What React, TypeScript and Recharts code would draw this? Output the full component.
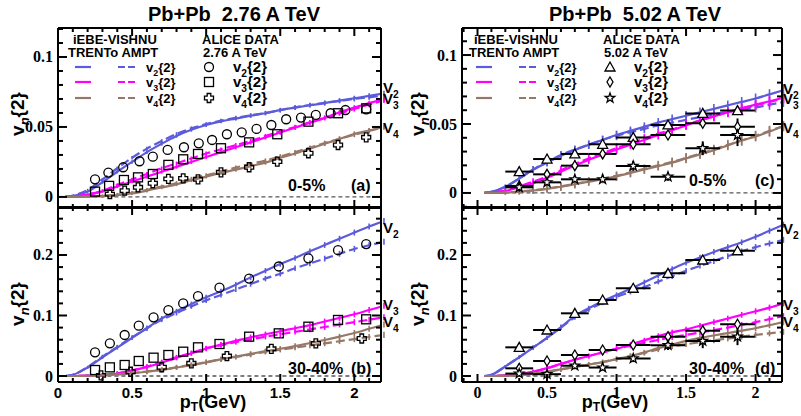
import React from 'react';
import { ComposedChart, Line, Scatter, XAxis, YAxis, ErrorBar, ReferenceLine } from 'recharts';

const BLUE = '#5b5bdb';
const MAGENTA = '#ff00ff';
const BROWN = '#977868';
const SANS = '"Liberation Sans", Arial, sans-serif';
const SERIF = '"Liberation Serif", "Times New Roman", serif';

// pT grid of the model curves (GeV)
const pt = [0.05, 0.1, 0.2, 0.3, 0.4, 0.5, 0.6, 0.7, 0.8, 0.9, 1.0, 1.1, 1.2, 1.3, 1.4, 1.5, 1.6, 1.7, 1.8, 1.9, 2.0, 2.1, 2.2];

// ---- Pb+Pb 2.76 A TeV, 0-5% ----
const aV2Trento = [0, 0.0007, 0.0038, 0.0105, 0.018, 0.025, 0.032, 0.038, 0.0436, 0.048, 0.0514, 0.054, 0.056, 0.058, 0.0598, 0.062, 0.0638, 0.0655, 0.067, 0.0688, 0.0705, 0.0722, 0.074];
const aV2Ampt = [0, 0.001, 0.005, 0.0125, 0.0205, 0.028, 0.0345, 0.04, 0.045, 0.049, 0.052, 0.0545, 0.0565, 0.0583, 0.06, 0.062, 0.064, 0.0657, 0.0672, 0.0686, 0.07, 0.0712, 0.0725];
const aV3Trento = [0, 0.0003, 0.0015, 0.004, 0.0075, 0.011, 0.0145, 0.018, 0.0215, 0.025, 0.0285, 0.032, 0.0355, 0.039, 0.0425, 0.046, 0.0495, 0.053, 0.0565, 0.0605, 0.0638, 0.067, 0.07];
const aV3Ampt = [0, 0.0004, 0.0018, 0.0045, 0.0085, 0.0125, 0.0165, 0.0205, 0.024, 0.0275, 0.031, 0.034, 0.037, 0.04, 0.0435, 0.0468, 0.05, 0.0533, 0.0565, 0.0597, 0.0628, 0.066, 0.069];
const aV4Trento = [0, 0, 0.0002, 0.0006, 0.0013, 0.0025, 0.0045, 0.0068, 0.009, 0.012, 0.0145, 0.0172, 0.0195, 0.022, 0.0245, 0.028, 0.031, 0.0345, 0.038, 0.0415, 0.045, 0.0475, 0.05];
const aV4Ampt = [0, 0, 0.0003, 0.0008, 0.0017, 0.003, 0.005, 0.0075, 0.01, 0.013, 0.0155, 0.018, 0.021, 0.0235, 0.026, 0.029, 0.032, 0.0352, 0.0385, 0.0415, 0.0445, 0.0472, 0.05];
const aErr = [0, 0, 0.0008, 0.001, 0.0012, 0.0012, 0.0013, 0.0013, 0.0013, 0.0014, 0.0014, 0.0014, 0.0015, 0.0015, 0.0015, 0.0016, 0.0016, 0.0016, 0.0017, 0.0017, 0.0018, 0.0018, 0.0018];

const aV2DataPt = [0.25, 0.34, 0.44, 0.55, 0.64, 0.74, 0.85, 0.95, 1.04, 1.14, 1.24, 1.34, 1.44, 1.54, 1.64, 1.74, 1.84, 1.94, 2.08];
const aV2Data = [0.0126, 0.0174, 0.0212, 0.0255, 0.0288, 0.0336, 0.0355, 0.0383, 0.0407, 0.0448, 0.0462, 0.0486, 0.0514, 0.0555, 0.0567, 0.0586, 0.0598, 0.0621, 0.0626];
const aV3DataPt = [0.25, 0.345, 0.445, 0.54, 0.64, 0.745, 0.845, 0.945, 1.1, 1.29, 1.48, 1.69, 1.89, 2.08];
const aV3Data = [0.0038, 0.0079, 0.0121, 0.014, 0.0164, 0.0229, 0.0269, 0.0307, 0.0348, 0.039, 0.0448, 0.0538, 0.0598, 0.0633];
const aV4DataPt = [0.35, 0.45, 0.54, 0.64, 0.745, 0.845, 0.945, 1.1, 1.29, 1.48, 1.69, 1.89, 2.08];
const aV4Data = [0.002, 0.0045, 0.0069, 0.0098, 0.0129, 0.0133, 0.0126, 0.0176, 0.0212, 0.0252, 0.0312, 0.0371, 0.0426];

// ---- Pb+Pb 2.76 A TeV, 30-40% ----
const bV2Trento = [0, 0.002, 0.014, 0.031, 0.047, 0.063, 0.079, 0.095, 0.107, 0.119, 0.13, 0.14, 0.151, 0.163, 0.174, 0.185, 0.195, 0.206, 0.2165, 0.227, 0.237, 0.247, 0.256];
const bV2Ampt = [0, 0.002, 0.015, 0.032, 0.048, 0.064, 0.079, 0.093, 0.104, 0.115, 0.125, 0.134, 0.143, 0.152, 0.161, 0.169, 0.178, 0.186, 0.194, 0.202, 0.21, 0.216, 0.222];
const bV3Trento = [0, 0, 0.0005, 0.0015, 0.004, 0.009, 0.015, 0.022, 0.03, 0.0375, 0.045, 0.052, 0.058, 0.064, 0.069, 0.074, 0.079, 0.084, 0.09, 0.096, 0.102, 0.109, 0.116];
const bV3Ampt = [0, 0, 0.0006, 0.0018, 0.0045, 0.0095, 0.0155, 0.023, 0.031, 0.038, 0.046, 0.051, 0.056, 0.0605, 0.065, 0.069, 0.073, 0.077, 0.081, 0.085, 0.089, 0.093, 0.097];
const bV4Trento = [0, 0, 0.0003, 0.001, 0.0025, 0.0045, 0.007, 0.01, 0.014, 0.018, 0.0225, 0.0275, 0.032, 0.0365, 0.041, 0.045, 0.0495, 0.0545, 0.0595, 0.065, 0.071, 0.078, 0.085];
const bV4Ampt = [0, 0, 0.0004, 0.0012, 0.003, 0.005, 0.0075, 0.0105, 0.0145, 0.0185, 0.023, 0.0275, 0.0315, 0.0355, 0.04, 0.0435, 0.047, 0.0505, 0.054, 0.0575, 0.061, 0.0645, 0.068];
const bErr = [0, 0, 0.002, 0.003, 0.0035, 0.0035, 0.004, 0.004, 0.004, 0.004, 0.0042, 0.0042, 0.0042, 0.0045, 0.0045, 0.0045, 0.0045, 0.0048, 0.0048, 0.0048, 0.005, 0.005, 0.005];

const bDataPt = [0.25, 0.35, 0.45, 0.545, 0.645, 0.745, 0.845, 0.945, 1.09, 1.29, 1.49, 1.69, 1.89, 2.08];
const bV2Data = [0.0391, 0.054, 0.0678, 0.0832, 0.097, 0.109, 0.12, 0.132, 0.146, 0.161, 0.181, 0.1945, 0.208, 0.218];
const bV3Data = [0.0099, 0.0143, 0.0182, 0.0248, 0.0303, 0.0347, 0.0402, 0.0474, 0.0529, 0.065, 0.0705, 0.0815, 0.0926, 0.0937];
const bV4DataPt = [0.29, 0.49, 0.7, 0.9, 1.14, 1.44, 1.74, 2.05];
const bV4Data = [0.001, 0.007, 0.0145, 0.021, 0.033, 0.045, 0.054, 0.062];

// ---- Pb+Pb 5.02 A TeV, 0-5% ----
const cV2Trento = [0, 0.0008, 0.0045, 0.0105, 0.0168, 0.022, 0.027, 0.031, 0.035, 0.0385, 0.042, 0.045, 0.048, 0.051, 0.0535, 0.056, 0.0585, 0.061, 0.0635, 0.066, 0.0685, 0.0715, 0.0745];
const cV2Ampt = [0, 0.0008, 0.0045, 0.0105, 0.017, 0.0225, 0.0275, 0.0315, 0.035, 0.0385, 0.0415, 0.044, 0.0465, 0.049, 0.051, 0.053, 0.055, 0.057, 0.0588, 0.0605, 0.062, 0.064, 0.066];
const cV3Trento = [0, 0.0002, 0.0015, 0.004, 0.007, 0.011, 0.0155, 0.02, 0.024, 0.028, 0.0315, 0.035, 0.0385, 0.042, 0.0455, 0.049, 0.0525, 0.0555, 0.0585, 0.0615, 0.064, 0.0665, 0.069];
const cV3Ampt = [0, 0.0003, 0.0018, 0.0048, 0.0082, 0.012, 0.0165, 0.021, 0.025, 0.029, 0.0325, 0.036, 0.0395, 0.043, 0.046, 0.0495, 0.0525, 0.0555, 0.0585, 0.061, 0.0635, 0.066, 0.0685];
const cV4Trento = [0, 0, 0.0003, 0.0009, 0.0018, 0.003, 0.0045, 0.0063, 0.0082, 0.01, 0.012, 0.0145, 0.017, 0.0195, 0.022, 0.025, 0.028, 0.031, 0.0345, 0.038, 0.041, 0.0445, 0.0485];
const cV4Ampt = [0, 0, 0.0003, 0.001, 0.002, 0.0032, 0.0048, 0.0066, 0.0085, 0.0105, 0.0125, 0.015, 0.0175, 0.02, 0.0225, 0.0255, 0.0285, 0.0315, 0.035, 0.038, 0.0415, 0.045, 0.0485];
const cErr = [0, 0, 0.0015, 0.002, 0.0025, 0.0028, 0.003, 0.003, 0.003, 0.003, 0.0032, 0.0032, 0.0032, 0.0033, 0.0033, 0.0034, 0.0034, 0.0035, 0.0035, 0.0036, 0.0036, 0.0037, 0.0037];

// ALICE 5.02 TeV bins: centre, half width
const aliceBinPt = [0.3, 0.5, 0.7, 0.9, 1.12, 1.37, 1.62, 1.87];
const aliceBinHalf = [0.1, 0.1, 0.1, 0.1, 0.125, 0.125, 0.125, 0.125];
const cV2Data = [0.0155, 0.0246, 0.0283, 0.0353, 0.0403, 0.0493, 0.0577, 0.0597];
const cV2Stat = [0.001, 0.001, 0.001, 0.0015, 0.0015, 0.002, 0.002, 0.003];
const cV3Data = [0.0051, 0.0135, 0.0198, 0.0283, 0.0353, 0.042, 0.0505, 0.048];
const cV3Stat = [0.001, 0.001, 0.0015, 0.0015, 0.002, 0.0025, 0.003, 0.006];
const cV4Data = [0.0041, 0.0077, 0.0099, 0.0099, 0.0196, 0.0118, 0.0324, 0.042];
const cV4Stat = [0.001, 0.0015, 0.002, 0.002, 0.0035, 0.003, 0.005, 0.008];

// ---- Pb+Pb 5.02 A TeV, 30-40% ----
const dV2Trento = [0, 0.002, 0.016, 0.031, 0.047, 0.063, 0.081, 0.099, 0.112, 0.124, 0.134, 0.144, 0.155, 0.166, 0.177, 0.187, 0.196, 0.205, 0.213, 0.221, 0.23, 0.24, 0.25];
const dV2Ampt = [0, 0.002, 0.016, 0.031, 0.047, 0.063, 0.08, 0.097, 0.11, 0.121, 0.131, 0.139, 0.147, 0.156, 0.165, 0.174, 0.182, 0.19, 0.198, 0.206, 0.213, 0.219, 0.225];
const dV3Trento = [0, 0, 0.001, 0.003, 0.007, 0.013, 0.02, 0.027, 0.033, 0.039, 0.045, 0.052, 0.059, 0.066, 0.072, 0.077, 0.083, 0.089, 0.095, 0.101, 0.107, 0.113, 0.12];
const dV3Ampt = [0, 0, 0.001, 0.003, 0.007, 0.013, 0.02, 0.027, 0.033, 0.039, 0.045, 0.05, 0.055, 0.0595, 0.064, 0.068, 0.072, 0.076, 0.08, 0.0845, 0.089, 0.094, 0.099];
const dV4Trento = [0, 0, 0.0005, 0.0015, 0.004, 0.007, 0.011, 0.015, 0.019, 0.023, 0.028, 0.033, 0.039, 0.046, 0.052, 0.058, 0.063, 0.067, 0.071, 0.075, 0.079, 0.084, 0.089];
const dV4Ampt = [0, 0, 0.0005, 0.0015, 0.004, 0.007, 0.011, 0.015, 0.019, 0.023, 0.028, 0.033, 0.038, 0.044, 0.049, 0.0525, 0.056, 0.059, 0.062, 0.065, 0.068, 0.0705, 0.073];
const dErr = [0, 0, 0.002, 0.003, 0.0035, 0.0035, 0.004, 0.004, 0.004, 0.004, 0.0042, 0.0042, 0.0042, 0.0045, 0.0045, 0.0045, 0.0045, 0.0048, 0.0048, 0.0048, 0.005, 0.005, 0.005];

const dV2Data = [0.0474, 0.076, 0.1036, 0.1256, 0.145, 0.1697, 0.1917, 0.207];
const dV2Stat = [0.002, 0.002, 0.002, 0.002, 0.003, 0.003, 0.003, 0.004];
const dV3Data = [0.0127, 0.0248, 0.0347, 0.043, 0.0512, 0.065, 0.0749, 0.0855];
const dV3Stat = [0.002, 0.002, 0.002, 0.003, 0.003, 0.004, 0.005, 0.006];
const dV4Data = [0.004, 0.003, 0.017, 0.014, 0.029, 0.051, 0.058, 0.065];
const dV4Stat = [0.004, 0.004, 0.005, 0.005, 0.006, 0.008, 0.012, 0.014];

// axis ticks
const xMajor = [0, 0.5, 1, 1.5, 2];
const yMajorTop = [0, 0.05, 0.1];
const yMajorBottom = [0, 0.1, 0.2];

const steps = (from: number, to: number, step: number) => {
  const n = Math.round((to - from) / step);
  const out: number[] = [];
  for (let i = 0; i <= n; i++) out.push(Math.round((from + i * step) * 1000) / 1000);
  return out;
};
const isMajor = (v: number, majors: number[]) => majors.some((m) => Math.abs(m - v) < 1e-6);

const buildRows = (v2t: number[], v2a: number[], v3t: number[], v3a: number[], v4t: number[], v4a: number[], err: number[]) =>
  pt.map((x, i) => ({ x, v2t: v2t[i], v2a: v2a[i], v3t: v3t[i], v3a: v3a[i], v4t: v4t[i], v4a: v4a[i], err: err[i] }));

const buildPoints = (xs: number[], ys: number[], xe?: number[], ye?: number[]) =>
  xs.map((x, i) => ({ x, y: ys[i], xe: xe ? xe[i] : 0, ye: ye ? ye[i] : 0 }));

const curves = [
  { key: 'v2t', color: BLUE, dashed: false },
  { key: 'v2a', color: BLUE, dashed: true },
  { key: 'v3t', color: MAGENTA, dashed: false },
  { key: 'v3a', color: MAGENTA, dashed: true },
  { key: 'v4t', color: BROWN, dashed: false },
  { key: 'v4a', color: BROWN, dashed: true },
];

type Kind = 'circle' | 'square' | 'cross' | 'triangle' | 'diamond' | 'star';

const Marker = ({ kind, cx, cy, fill }: { kind: Kind; cx: number; cy: number; fill: string }) => {
  const st = { fill, stroke: '#000', strokeWidth: 1.3 };
  if (kind === 'circle') return <circle cx={cx} cy={cy} r={4.5} {...st} />;
  if (kind === 'square') return <rect x={cx - 4.5} y={cy - 4.5} width={9} height={9} {...st} />;
  if (kind === 'triangle') return <polygon points={`${cx},${cy - 5} ${cx + 5},${cy + 4} ${cx - 5},${cy + 4}`} {...st} />;
  if (kind === 'diamond') return <polygon points={`${cx},${cy - 5} ${cx + 3},${cy} ${cx},${cy + 5} ${cx - 3},${cy}`} {...st} />;
  if (kind === 'cross') {
    const a = 1.8, b = 4.5;
    const p = [[-a, -b], [a, -b], [a, -a], [b, -a], [b, a], [a, a], [a, b], [-a, b], [-a, a], [-b, a], [-b, -a], [-a, -a]];
    return <polygon points={p.map(([dx, dy]) => `${cx + dx},${cy + dy}`).join(' ')} {...st} />;
  }
  const pts: string[] = [];
  for (let i = 0; i < 10; i++) {
    const r = i % 2 === 0 ? 5 : 2;
    const ang = -Math.PI / 2 + (i * Math.PI) / 5;
    pts.push(`${cx + r * Math.cos(ang)},${cy + r * Math.sin(ang)}`);
  }
  return <polygon points={pts.join(' ')} {...st} />;
};

interface PointSet { kind: Kind; data: { x: number; y: number; xe: number; ye: number }[]; bars: boolean }

interface PanelProps {
  left: number; top: number; width: number; height: number;
  plot: { x0: number; x1: number; y0: number; y1: number };
  xDomain: [number, number]; yDomain: [number, number];
  xMinor: number[]; yMinor: number[]; yMajor: number[];
  rows: ReturnType<typeof buildRows>;
  sets: PointSet[];
  xLabels: boolean; xLabelFont: string; xLabelSize: number;
  fill: string;
}

const AXIS = { stroke: '#000', strokeWidth: 2 };
const noShape = () => <g />;

function Panel(p: PanelProps) {
  const xTick = (dir: 1 | -1, labels: boolean) => (t: any) => {
    const v = t.payload.value;
    const major = isMajor(v, xMajor);
    const len = major ? 8 : 4;
    return (
      <g>
        <line x1={t.x} y1={t.y} x2={t.x} y2={t.y - dir * len} stroke="#000" strokeWidth={2} />
        {labels && major && (
          <text x={t.x} y={t.y + 16} textAnchor="middle" fontFamily={p.xLabelFont} fontWeight="bold" fontSize={p.xLabelSize} fill="#000">
            {String(v)}
          </text>
        )}
      </g>
    );
  };
  const yTick = (dir: 1 | -1, labels: boolean) => (t: any) => {
    const v = t.payload.value;
    const major = isMajor(v, p.yMajor);
    const len = major ? 9 : 5;
    return (
      <g>
        <line x1={t.x} y1={t.y} x2={t.x + dir * len} y2={t.y} stroke="#000" strokeWidth={2} />
        {labels && major && (
          <text x={t.x - 5} y={t.y + 5.5} textAnchor="end" fontFamily={SERIF} fontWeight="bold" fontSize={16} fill="#000">
            {String(v)}
          </text>
        )}
      </g>
    );
  };
  const common = { type: 'number' as const, allowDataOverflow: true, interval: 0 as const, tickLine: false, tickSize: 0, tickMargin: 0, axisLine: AXIS };
  return (
    <div style={{ position: 'absolute', left: p.left, top: p.top }}>
      <ComposedChart width={p.width} height={p.height} data={p.rows} margin={{ top: 0, right: 0, bottom: 0, left: 0 }}>
        <XAxis xAxisId="b" dataKey="x" domain={p.xDomain} ticks={p.xMinor} height={p.height - p.plot.y1} tick={xTick(1, p.xLabels)} {...common} />
        <XAxis xAxisId="t" orientation="top" dataKey="x" domain={p.xDomain} ticks={p.xMinor} height={p.plot.y0} tick={xTick(-1, false)} {...common} />
        <YAxis yAxisId="l" domain={p.yDomain} ticks={p.yMinor} width={p.plot.x0} tick={yTick(1, true)} {...common} />
        <YAxis yAxisId="r" orientation="right" domain={p.yDomain} ticks={p.yMinor} width={p.width - p.plot.x1} tick={yTick(-1, false)} {...common} />
        <ReferenceLine xAxisId="b" yAxisId="l" segment={[{ x: 0.05, y: 0 }, { x: p.xDomain[1], y: 0 }]} stroke="#555" strokeWidth={1.3} strokeDasharray="4 3" />
        {curves.map((c) => (
          <Line key={c.key} xAxisId="b" yAxisId="l" dataKey={c.key} type="monotone" stroke={c.color} strokeWidth={2.2}
            strokeDasharray={c.dashed ? '9 4' : undefined} dot={false} isAnimationActive={false} />
        ))}
        {/* model uncertainty ticks along each curve */}
        {curves.map((c) => (
          <Scatter key={`e-${c.key}`} xAxisId="b" yAxisId="l" data={p.rows.slice(2).map((r) => ({ x: r.x, y: (r as any)[c.key], err: r.err }))}
            dataKey="y" shape={noShape} isAnimationActive={false}>
            <ErrorBar dataKey="err" direction="y" width={0} stroke={c.color} strokeWidth={1.6} />
          </Scatter>
        ))}
        {p.sets.map((s, i) => (
          <Scatter key={i} xAxisId="b" yAxisId="l" data={s.data} dataKey="y" isAnimationActive={false}
            shape={(sp: any) => <Marker kind={s.kind} cx={sp.cx} cy={sp.cy} fill={p.fill} />}>
            {s.bars && <ErrorBar dataKey="xe" direction="x" width={0} stroke="#000" strokeWidth={2} />}
            {s.bars && <ErrorBar dataKey="ye" direction="y" width={0} stroke="#000" strokeWidth={2} />}
          </Scatter>
        ))}
      </ComposedChart>
    </div>
  );
}

const VText = ({ x, y, n, size, cap = false }: { x: number; y: number; n: string; size: number; cap?: boolean }) => (
  <text x={x} y={y} fontFamily={SANS} fontWeight="bold" fontSize={size} fill="#000">
    {cap ? 'V' : 'v'}
    <tspan dy={size * 0.3} fontSize={size * 0.68}>{n}</tspan>
    {!cap && <tspan dy={-size * 0.3}>{'{2}'}</tspan>}
  </text>
);

const Legend = ({ dx, energy, kinds }: { dx: number; energy: string; kinds: Kind[] }) => {
  const rows = [
    { n: '2', color: BLUE, y: 67 },
    { n: '3', color: MAGENTA, y: 82 },
    { n: '4', color: BROWN, y: 98 },
  ];
  return (
    <g fontFamily={SANS} fontWeight="bold">
      <text x={73 + dx} y={44} fontSize={13}>iEBE-VISHNU</text>
      <text x={68 + dx} y={57} fontSize={13}>TRENTo AMPT</text>
      <text x={202 + dx} y={44} fontSize={13}>ALICE DATA</text>
      <text x={203 + dx} y={57} fontSize={13}>{energy}</text>
      {rows.map((r, i) => (
        <g key={r.n}>
          <line x1={75 + dx} y1={r.y} x2={91 + dx} y2={r.y} stroke={r.color} strokeWidth={2.2} />
          <line x1={118 + dx} y1={r.y} x2={138 + dx} y2={r.y} stroke={r.color} strokeWidth={2.2} strokeDasharray="7 3" />
          <VText x={146 + dx} y={r.y + 5} n={r.n} size={13} />
          <Marker kind={kinds[i]} cx={209 + dx} cy={r.y} fill="#fff" />
          <VText x={233 + dx} y={r.y + 5} n={r.n} size={15} />
        </g>
      ))}
    </g>
  );
};

const YTitle = ({ x, y }: { x: number; y: number }) => (
  <text transform={`translate(${x},${y}) rotate(-90)`} textAnchor="middle" fontFamily={SANS} fontWeight="bold" fontSize={19}>
    v<tspan dy={5} fontSize={13} fontStyle="italic">n</tspan><tspan dy={-5}>{'{2}'}</tspan>
  </text>
);

const XTitle = ({ x }: { x: number }) => (
  <text x={x} y={408} textAnchor="middle" fontFamily={SANS} fontWeight="bold" fontSize={18}>
    p<tspan dy={3} fontSize={12}>T</tspan><tspan dy={-3}>(GeV)</tspan>
  </text>
);

const Tag = ({ x, y, text }: { x: number; y: number; text: string }) => (
  <text x={x} y={y} fontFamily={SANS} fontWeight="bold" fontSize={16}>{text}</text>
);

const xMinorLeft = steps(0, 2.1, 0.1);
const xMinorRight = steps(-0.1, 2.1, 0.1);

export default function App() {
  const rowsA = buildRows(aV2Trento, aV2Ampt, aV3Trento, aV3Ampt, aV4Trento, aV4Ampt, aErr);
  const rowsB = buildRows(bV2Trento, bV2Ampt, bV3Trento, bV3Ampt, bV4Trento, bV4Ampt, bErr);
  const rowsC = buildRows(cV2Trento, cV2Ampt, cV3Trento, cV3Ampt, cV4Trento, cV4Ampt, cErr);
  const rowsD = buildRows(dV2Trento, dV2Ampt, dV3Trento, dV3Ampt, dV4Trento, dV4Ampt, dErr);

  const setsA: PointSet[] = [
    { kind: 'circle', data: buildPoints(aV2DataPt, aV2Data), bars: false },
    { kind: 'square', data: buildPoints(aV3DataPt, aV3Data), bars: false },
    { kind: 'cross', data: buildPoints(aV4DataPt, aV4Data), bars: false },
  ];
  const setsB: PointSet[] = [
    { kind: 'circle', data: buildPoints(bDataPt, bV2Data), bars: false },
    { kind: 'square', data: buildPoints(bDataPt, bV3Data), bars: false },
    { kind: 'cross', data: buildPoints(bV4DataPt, bV4Data), bars: false },
  ];
  const setsC: PointSet[] = [
    { kind: 'triangle', data: buildPoints(aliceBinPt, cV2Data, aliceBinHalf, cV2Stat), bars: true },
    { kind: 'diamond', data: buildPoints(aliceBinPt, cV3Data, aliceBinHalf, cV3Stat), bars: true },
    { kind: 'star', data: buildPoints(aliceBinPt, cV4Data, aliceBinHalf, cV4Stat), bars: true },
  ];
  const setsD: PointSet[] = [
    { kind: 'triangle', data: buildPoints(aliceBinPt, dV2Data, aliceBinHalf, dV2Stat), bars: true },
    { kind: 'diamond', data: buildPoints(aliceBinPt, dV3Data, aliceBinHalf, dV3Stat), bars: true },
    { kind: 'star', data: buildPoints(aliceBinPt, dV4Data, aliceBinHalf, dV4Stat), bars: true },
  ];

  return (
    <div style={{ position: 'absolute', left: 0, top: 0, width: 801, height: 416, background: '#fff', overflow: 'hidden' }}>
      <Panel left={0} top={0} width={400} height={210} plot={{ x0: 58, x1: 381, y0: 28, y1: 208 }}
        xDomain={[0, 2.18]} yDomain={[-0.0079, 0.1207]} xMinor={xMinorLeft} yMinor={steps(0, 0.12, 0.01)} yMajor={yMajorTop}
        rows={rowsA} sets={setsA} xLabels={false} xLabelFont={SANS} xLabelSize={15} fill="none" />
      <Panel left={0} top={200} width={400} height={216} plot={{ x0: 58, x1: 381, y0: 7, y1: 182 }}
        xDomain={[0, 2.18]} yDomain={[-0.0099, 0.2793]} xMinor={xMinorLeft} yMinor={steps(0, 0.26, 0.02)} yMajor={yMajorBottom}
        rows={rowsB} sets={setsB} xLabels xLabelFont={SANS} xLabelSize={15} fill="none" />
      <Panel left={400} top={0} width={401} height={210} plot={{ x0: 62, x1: 382, y0: 28, y1: 208 }}
        xDomain={[-0.1115, 2.19]} yDomain={[-0.0109, 0.1196]} xMinor={xMinorRight} yMinor={steps(-0.01, 0.11, 0.01)} yMajor={yMajorTop}
        rows={rowsC} sets={setsC} xLabels={false} xLabelFont={SERIF} xLabelSize={16} fill="#fff" />
      <Panel left={400} top={200} width={401} height={216} plot={{ x0: 62, x1: 382, y0: 7, y1: 182 }}
        xDomain={[-0.1115, 2.19]} yDomain={[-0.0099, 0.2793]} xMinor={xMinorRight} yMinor={steps(0, 0.26, 0.02)} yMajor={yMajorBottom}
        rows={rowsD} sets={setsD} xLabels xLabelFont={SERIF} xLabelSize={16} fill="#fff" />

      <svg width={801} height={416} style={{ position: 'absolute', left: 0, top: 0, pointerEvents: 'none' }}>
        <text x={234} y={21} textAnchor="middle" fontFamily={SANS} fontWeight="bold" fontSize={20} style={{ whiteSpace: 'pre' }}>Pb+Pb  2.76 A TeV</text>
        <text x={635} y={21} textAnchor="middle" fontFamily={SANS} fontWeight="bold" fontSize={20} style={{ whiteSpace: 'pre' }}>Pb+Pb  5.02 A TeV</text>

        <Legend dx={0} energy="2.76 A TeV" kinds={['circle', 'square', 'cross']} />
        <Legend dx={401} energy="5.02 A TeV" kinds={['triangle', 'diamond', 'star']} />

        <VText x={383} y={93} n="2" size={15} cap />
        <VText x={383} y={104} n="3" size={15} cap />
        <VText x={383} y={133} n="4" size={15} cap />
        <VText x={383} y={233} n="2" size={15} cap />
        <VText x={383} y={310} n="3" size={15} cap />
        <VText x={383} y={327} n="4" size={15} cap />
        <VText x={783} y={94} n="2" size={15} cap />
        <VText x={783} y={104} n="3" size={15} cap />
        <VText x={783} y={133} n="4" size={15} cap />
        <VText x={783} y={234} n="2" size={15} cap />
        <VText x={783} y={310} n="3" size={15} cap />
        <VText x={783} y={327} n="4" size={15} cap />

        <Tag x={288} y={191} text="0-5%" />
        <Tag x={351} y={191} text="(a)" />
        <Tag x={288} y={374} text="30-40%" />
        <Tag x={351} y={374} text="(b)" />
        <Tag x={689} y={186} text="0-5%" />
        <Tag x={755} y={186} text="(c)" />
        <Tag x={689} y={374} text="30-40%" />
        <Tag x={755} y={374} text="(d)" />

        <YTitle x={24} y={114} />
        <YTitle x={24} y={304} />
        <YTitle x={424} y={114} />
        <YTitle x={424} y={304} />
        <XTitle x={213} />
        <XTitle x={615} />
      </svg>
    </div>
  );
}
